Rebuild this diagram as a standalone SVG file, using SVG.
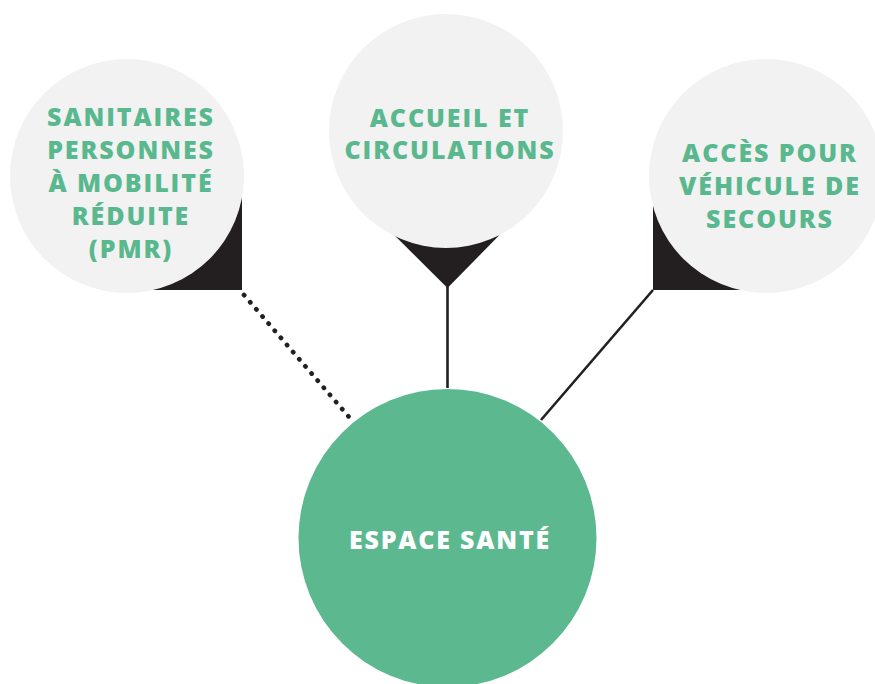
<svg xmlns="http://www.w3.org/2000/svg" width="875" height="684" viewBox="0 0 875 684">
<style>
.bubble{fill:#f2f2f2}
.tail{fill:#231f20}
.lbl{font-family:"Open Sans","Liberation Sans",sans-serif;font-weight:800;font-size:25px;fill:#5ab88e;text-anchor:middle;letter-spacing:1.9px}
.main{font-family:"Open Sans","Liberation Sans",sans-serif;font-weight:800;font-size:25px;fill:#ffffff;text-anchor:middle;letter-spacing:1.8px}
.conn{stroke:#231f20;stroke-width:2.6;fill:none}
.dotted{stroke-width:4.6;stroke-linecap:round;stroke-dasharray:0.4 9}
</style>
<rect width="875" height="684" fill="#ffffff"/>
<g id="connectors">
<line class="conn dotted" x1="244" y1="295" x2="349" y2="417"/>
<line class="conn" x1="447.5" y1="286" x2="447.5" y2="388"/>
<line class="conn" x1="653" y1="290" x2="541" y2="420"/>
</g>
<g id="node-sanitaires">
<rect class="tail" x="127" y="176" width="115" height="114"/>
<circle class="bubble" cx="127" cy="176" r="117"/>
<text class="lbl" x="131" y="126">SANITAIRES</text>
<text class="lbl" x="131" y="159">PERSONNES</text>
<text class="lbl" x="131" y="192">À MOBILITÉ</text>
<text class="lbl" x="131" y="225">RÉDUITE</text>
<text class="lbl" x="131" y="258">(PMR)</text>
</g>
<g id="node-accueil">
<polygon class="tail" points="446,131 368,209 447.5,288 525,209"/>
<circle class="bubble" cx="446" cy="131" r="117"/>
<text class="lbl" x="450" y="127">ACCUEIL ET</text>
<text class="lbl" x="450" y="159">CIRCULATIONS</text>
</g>
<g id="node-acces">
<rect class="tail" x="653" y="176" width="113" height="114"/>
<circle class="bubble" cx="766" cy="176" r="117"/>
<text class="lbl" x="770" y="162">ACCÈS POUR</text>
<text class="lbl" x="770" y="195">VÉHICULE DE</text>
<text class="lbl" x="770" y="228">SECOURS</text>
</g>
<g id="node-espace">
<circle cx="447.5" cy="538" r="149" fill="#5cb88f"/>
<text class="main" x="450" y="549">ESPACE SANTÉ</text>
</g>
</svg>
